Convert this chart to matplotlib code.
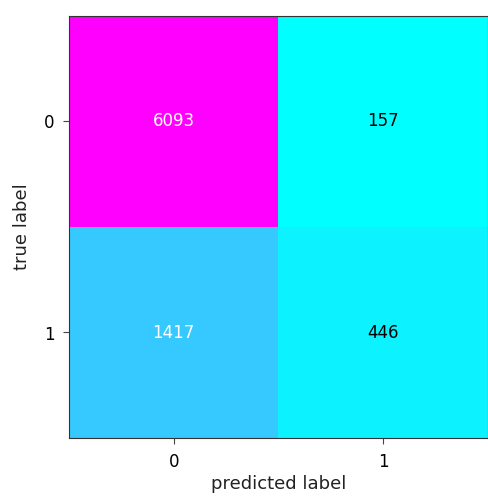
import matplotlib
matplotlib.use("Agg")
import matplotlib.pyplot as plt
import numpy as np

# confusion matrix values (rows: true, cols: predicted)
class_labels = ["0", "1"]
conf_mat = np.array([[6093, 157],
                     [1417, 446]])
text_colors = [["white", "black"],
               ["white", "black"]]

fig = plt.figure(figsize=(4.89, 4.98), dpi=100)
ax = fig.add_axes([69 / 489, 1 - 438 / 498, 419 / 489, 422 / 498])
ax.imshow(conf_mat, cmap=plt.cm.cool, aspect="auto")

for i in range(conf_mat.shape[0]):
    for j in range(conf_mat.shape[1]):
        ax.text(j, i, str(conf_mat[i, j]), ha="center", va="center",
                color=text_colors[i][j], fontsize=12)

ax.set_xticks(range(len(class_labels)))
ax.set_yticks(range(len(class_labels)))
ax.set_xticklabels(class_labels)
ax.set_yticklabels(class_labels)
ax.tick_params(labelsize=12, length=4.5, pad=6, color="#444444")
for side in ax.spines.values():
    side.set_color("#333333")
ax.set_xlabel("predicted label", fontsize=13, labelpad=3, color="#222222")
ax.set_ylabel("true label", fontsize=13, labelpad=9, color="#222222")

fig.savefig("out.png", dpi=100)
